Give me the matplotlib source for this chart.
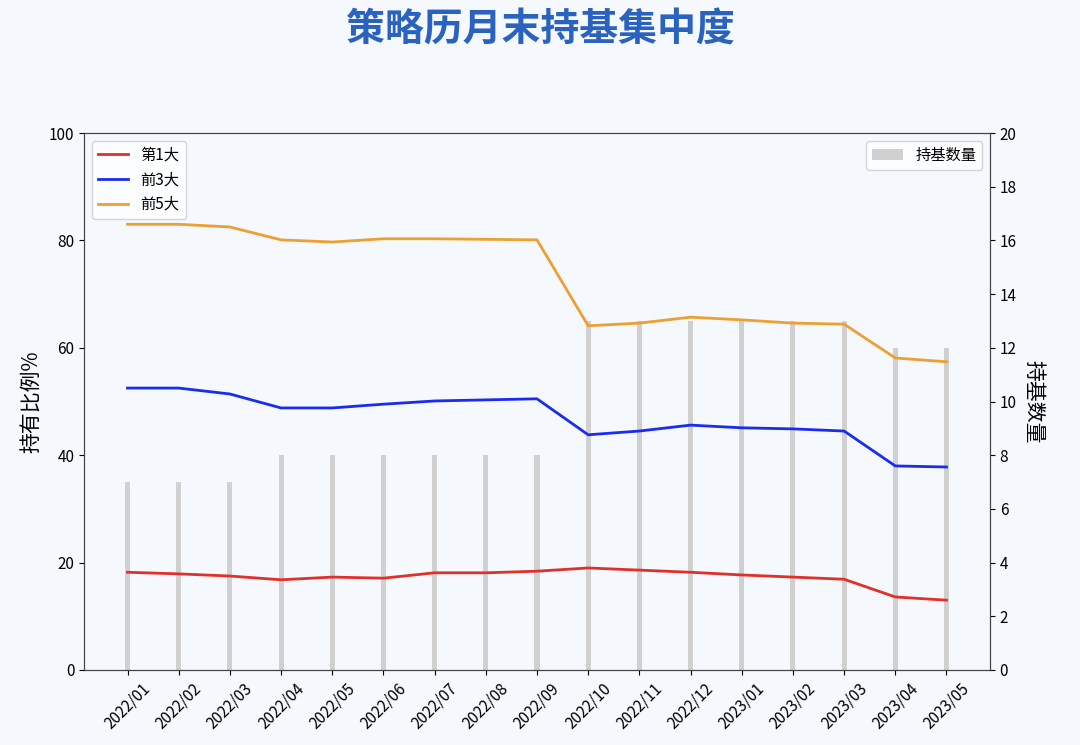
import matplotlib
matplotlib.use("Agg")
import matplotlib.pyplot as plt
import numpy as np

plt.rcParams['font.family'] = ['Noto Sans CJK SC', 'DejaVu Sans']
plt.rcParams['axes.unicode_minus'] = False

months = ["2022/01","2022/02","2022/03","2022/04","2022/05","2022/06","2022/07","2022/08","2022/09",
          "2022/10","2022/11","2022/12","2023/01","2023/02","2023/03","2023/04","2023/05"]
top1 = [18.2,17.9,17.5,16.8,17.3,17.1,18.1,18.1,18.4,19.0,18.6,18.2,17.7,17.3,16.9,13.6,13.0]
top3 = [52.5,52.5,51.4,48.8,48.8,49.5,50.1,50.3,50.5,43.8,44.5,45.6,45.1,44.9,44.5,38.0,37.8]
top5 = [83.0,83.0,82.5,80.1,79.7,80.3,80.3,80.2,80.1,64.1,64.6,65.7,65.2,64.6,64.4,58.1,57.4]
counts = [7,7,7,8,8,8,8,8,8,13,13,13,13,13,13,12,12]

bg = '#f5f8fc'
fig = plt.figure(figsize=(10.8, 7.45), dpi=100, facecolor=bg)
ax = fig.add_axes([84/1080, 1-670/745, 906/1080, 537/745])
ax.set_facecolor(bg)
x = np.arange(len(months))
ax2 = ax.twinx()
ax2.bar(x, counts, width=0.1, color='#d0d0d0', label='持基数量', zorder=1)
ax2.set_ylim(0, 20)
ax2.set_yticks(range(0, 21, 2))
ax2.set_ylabel('持基数量', rotation=270, labelpad=20, fontsize=15)
ax.set_zorder(ax2.get_zorder()+1)
ax.patch.set_visible(False)

ax.plot(x, top1, color='#e0302a', lw=2, label='第1大')
ax.plot(x, top3, color='#1a2cf0', lw=2, label='前3大')
ax.plot(x, top5, color='#eda032', lw=2, label='前5大')
ax.set_ylim(0, 100)
ax.set_xlim(-0.85, 16.85)
ax.set_xticks(x)
ax.set_xticklabels(months, rotation=45, fontsize=9)
ax.set_ylabel('持有比例%', fontsize=15)
ax.legend(loc='upper left', fontsize=11)
ax2.legend(loc='upper right', fontsize=11)
ax.tick_params(labelsize=11)
ax2.tick_params(labelsize=11)
for a in (ax, ax2):
    for s in a.spines.values():
        s.set_color('#444444')

fig.text(0.5, 0.96, '策略历月末持基集中度', ha='center', va='center', fontsize=28,
         fontweight='bold', color='#2a62c0')
fig.savefig('out.png', dpi=100, facecolor=bg)
